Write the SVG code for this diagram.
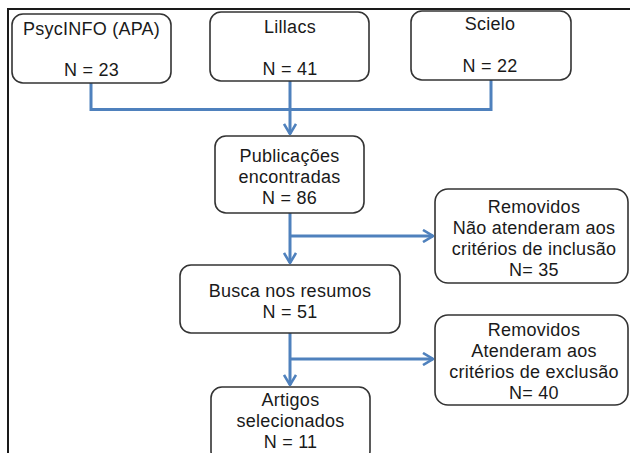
<svg xmlns="http://www.w3.org/2000/svg" width="630" height="453" viewBox="0 0 630 453">
<defs>
<style>
.box{fill:#fff;stroke:#333;stroke-width:1.6}
.t{font-family:"Liberation Sans",Arial,sans-serif;font-size:18px;letter-spacing:0.25px;fill:#1a1a1a;text-anchor:middle}
.c{fill:none;stroke:#4f81bd;stroke-width:3}
</style>
<marker id="ah" viewBox="0 0 12 14" refX="11" refY="7" markerWidth="12" markerHeight="14" markerUnits="userSpaceOnUse" orient="auto">
<path d="M1,1 L11,7 L1,13" fill="none" stroke="#4f81bd" stroke-width="2.6"/>
</marker>
</defs>
<rect width="630" height="453" fill="#fff"/>
<path d="M8,453 V9 H630" fill="none" stroke="#1a1a1a" stroke-width="2"/>
<g id="connectors">
<path class="c" d="M91,83 V109.5 H491 V80"/>
<path class="c" d="M290,81 V134" marker-end="url(#ah)"/>
<path class="c" d="M290,213 V263" marker-end="url(#ah)"/>
<path class="c" d="M290,236 H433" marker-end="url(#ah)"/>
<path class="c" d="M290,333 V385" marker-end="url(#ah)"/>
<path class="c" d="M290,359 H433" marker-end="url(#ah)"/>
</g>
<g id="psycinfo">
<rect class="box" x="12" y="14" width="159" height="69" rx="11"/>
<text class="t" x="91.5" y="35">PsycINFO (APA)</text>
<text class="t" x="91.5" y="76">N = 23</text>
</g>
<g id="lillacs">
<rect class="box" x="210" y="12" width="159" height="69" rx="11"/>
<text class="t" x="290" y="33">Lillacs</text>
<text class="t" x="290" y="75">N = 41</text>
</g>
<g id="scielo">
<rect class="box" x="411" y="11" width="160" height="69" rx="11"/>
<text class="t" x="490" y="30">Scielo</text>
<text class="t" x="490" y="72">N = 22</text>
</g>
<g id="publicacoes">
<rect class="box" x="215" y="136" width="149" height="77" rx="11"/>
<text class="t" x="289.5" y="162">Publicações</text>
<text class="t" x="289.5" y="183">encontradas</text>
<text class="t" x="289.5" y="204">N = 86</text>
</g>
<g id="removidos1">
<rect class="box" x="435" y="189" width="193" height="94" rx="13"/>
<text class="t" x="534" y="213">Removidos</text>
<text class="t" x="534" y="234">Não atenderam aos</text>
<text class="t" x="534" y="255">critérios de inclusão</text>
<text class="t" x="534" y="276">N= 35</text>
</g>
<g id="busca">
<rect class="box" x="180" y="265" width="220" height="68" rx="11"/>
<text class="t" x="290" y="297">Busca nos resumos</text>
<text class="t" x="290" y="318">N = 51</text>
</g>
<g id="removidos2">
<rect class="box" x="435" y="315" width="193" height="90" rx="13"/>
<text class="t" x="534" y="336">Removidos</text>
<text class="t" x="534" y="357">Atenderam aos</text>
<text class="t" x="534" y="378">critérios de exclusão</text>
<text class="t" x="534" y="399">N= 40</text>
</g>
<g id="artigos">
<rect class="box" x="211" y="387" width="159" height="75" rx="11"/>
<text class="t" x="290.5" y="406">Artigos</text>
<text class="t" x="290.5" y="427">selecionados</text>
<text class="t" x="290.5" y="448">N = 11</text>
</g>
</svg>
